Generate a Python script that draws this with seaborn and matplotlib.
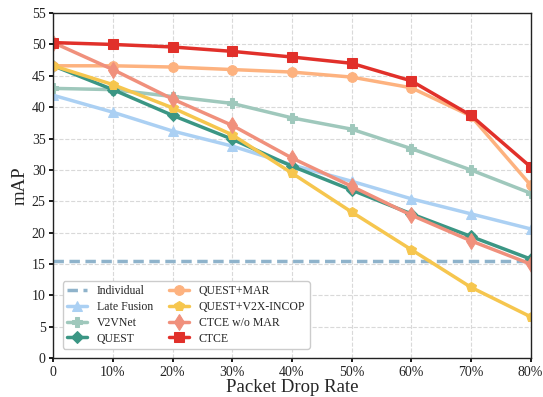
import pandas as pd
import matplotlib.pyplot as plt
import seaborn as sns

sns.set_theme(style="ticks")
plt.rcParams["font.family"] = ["Liberation Serif", "DejaVu Serif"]

# Packet drop rate (%) and mAP of each method
drop_rate = [0, 10, 20, 30, 40, 50, 60, 70, 80]
tick_labels = ["0", "10%", "20%", "30%", "40%", "50%", "60%", "70%", "80%"]

individual = 15.5
late_fusion = [41.9, 39.2, 36.2, 33.8, 30.8, 28.2, 25.4, 23.0, 20.6]
v2vnet = [43.0, 42.8, 41.7, 40.6, 38.3, 36.5, 33.4, 30.0, 26.3]
quest = [46.6, 42.8, 38.7, 34.9, 30.6, 26.8, 23.0, 19.4, 15.8]
quest_mar = [46.6, 46.6, 46.4, 46.0, 45.6, 44.8, 43.1, 38.6, 27.6]
quest_incop = [46.6, 43.6, 39.9, 35.6, 29.5, 23.3, 17.3, 11.3, 6.6]
ctce_no_mar = [50.3, 46.0, 41.3, 37.1, 31.9, 27.4, 22.8, 18.7, 15.0]
ctce = [50.3, 50.0, 49.6, 48.9, 48.0, 47.0, 44.2, 38.7, 30.5]

series = [
    ("Late Fusion", late_fusion, "#abd0f3", "^", 7),
    ("V2VNet", v2vnet, "#9fc8bc", "P", 7),
    ("QUEST", quest, "#3b9684", "D", 6),
    ("QUEST+MAR", quest_mar, "#fdb27f", "o", 7),
    ("QUEST+V2X-INCOP", quest_incop, "#f6c64e", "p", 7),
    ("CTCE w/o MAR", ctce_no_mar, "#f0907c", "d", 8),
    ("CTCE", ctce, "#e1302a", "s", 7),
]

fig, ax = plt.subplots(figsize=(5.43, 3.97), dpi=100)

ax.axhline(individual, color="#8fb3cb", lw=2.5, ls=(0, (3, 1.6)), label="Individual")
for name, vals, color, marker, ms in series:
    df = pd.DataFrame({"rate": drop_rate, "mAP": vals})
    sns.lineplot(data=df, x="rate", y="mAP", ax=ax, color=color, lw=2.5,
                 marker=marker, markersize=ms, markeredgecolor=color, label=name)

ax.set_xlim(0, 80)
ax.set_ylim(0, 55)
ax.set_xticks(drop_rate)
ax.set_xticklabels(tick_labels)
ax.set_yticks(range(0, 56, 5))
ax.tick_params(labelsize=10, length=3, color="black", labelcolor="#222222", pad=2.5)
ax.grid(True, ls="--", color="#d9d9d9", lw=0.8)
for s in ax.spines.values():
    s.set_color("#222222")
    s.set_linewidth(1.0)

ax.set_xlabel("Packet Drop Rate", fontsize=13.5, labelpad=0)
ax.set_ylabel("mAP", fontsize=13.5, labelpad=2)

h, l = ax.get_legend_handles_labels()
ax.legend(h, l, ncol=2, loc="lower left", fontsize=8.5, frameon=True,
          handlelength=1.7, handletextpad=0.8, columnspacing=1.4,
          labelspacing=0.32, borderpad=0.35, framealpha=1, edgecolor="#cccccc",
          bbox_to_anchor=(0.008, 0.01))

plt.subplots_adjust(left=0.098, right=0.977, top=0.967, bottom=0.098)
plt.savefig("out.png", dpi=100)
